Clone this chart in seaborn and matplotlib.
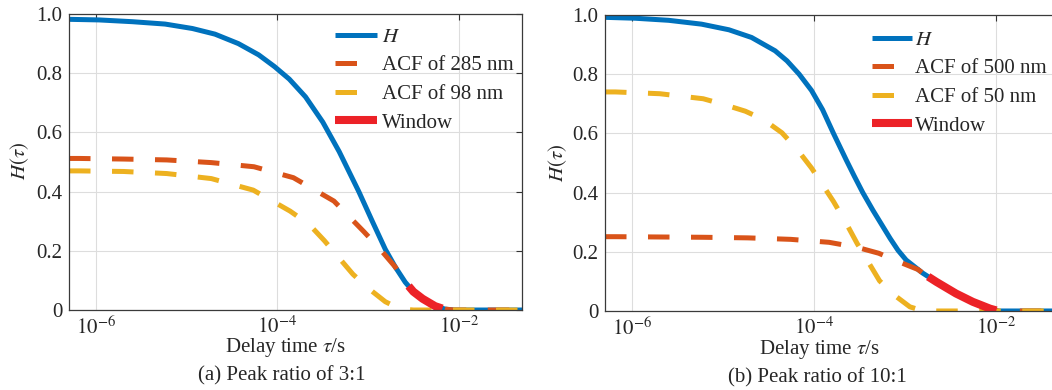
import matplotlib
matplotlib.use("Agg")
import matplotlib.pyplot as plt
import seaborn as sns

# ---------------- data ----------------
x_ticks = [1e-6, 1e-4, 1e-2]
x_ticklabels = [r"$10^{-6}$", r"$10^{-4}$", r"$10^{-2}$"]
y_ticks = [0, 0.2, 0.4, 0.6, 0.8, 1.0]
y_ticklabels = ["0", "0.2", "0.4", "0.6", "0.8", "1.0"]
x_limits = [5e-7, 5e-2]

# panel (a): peak ratio 3:1
tau_H_a = [5e-7, 1.07e-6, 2.5e-6, 5.75e-6, 1.15e-5, 2.04e-5, 3.7e-5, 6.2e-5, 9.3e-5,
           1.35e-4, 2.04e-4, 3.16e-4, 4.8e-4, 7.9e-4, 1.12e-3, 1.55e-3, 2.0e-3,
           2.57e-3, 3.16e-3, 4.0e-3, 5.5e-3, 7.1e-3, 8.9e-3, 5e-2]
H_a = [0.982, 0.980, 0.974, 0.966, 0.951, 0.932, 0.900, 0.862, 0.822,
       0.78, 0.72, 0.635, 0.535, 0.40, 0.298, 0.205, 0.145,
       0.094, 0.062, 0.038, 0.013, 0.003, 0.0, 0.0]

tau_285 = [5e-7, 6.5e-7, 2.0e-6, 6.0e-6, 1.86e-5, 5.5e-5, 1.5e-4, 4.2e-4, 8.9e-4,
           1.32e-3, 2.0e-3, 2.57e-3, 3.16e-3, 4.0e-3, 5.5e-3, 7.1e-3, 8.9e-3, 5e-2]
acf_285 = [0.512, 0.512, 0.510, 0.507, 0.498, 0.484, 0.447, 0.368, 0.266,
           0.21, 0.145, 0.094, 0.062, 0.038, 0.013, 0.003, 0.0, 0.0]

tau_98 = [5e-7, 6.5e-7, 2.0e-6, 6.0e-6, 1.86e-5, 5.4e-5, 1.38e-4, 2.24e-4, 3.3e-4,
          6.8e-4, 1.0e-3, 1.55e-3, 2.24e-3, 3.16e-3, 5e-2]
acf_98 = [0.47, 0.47, 0.468, 0.461, 0.444, 0.405, 0.334, 0.289, 0.234,
          0.121, 0.074, 0.028, 0.004, 0.0, 0.0]

win_tau_a = [2.8e-3, 3.16e-3, 4.0e-3, 5.5e-3, 6.6e-3]
win_a = [0.081, 0.062, 0.038, 0.013, 0.005]

# panel (b): peak ratio 10:1
tau_H_b = [5e-7, 1.07e-6, 2.5e-6, 5.75e-6, 1.15e-5, 2.04e-5, 3.7e-5, 5.0e-5, 6.8e-5,
           9.3e-5, 1.23e-4, 1.62e-4, 2.24e-4, 2.75e-4, 3.4e-4, 4.4e-4, 6.8e-4,
           8.3e-4, 1.02e-3, 1.55e-3, 2.2e-3, 3.6e-3, 5.5e-3, 8.5e-3, 1.05e-2, 5e-2]
H_b = [0.992, 0.989, 0.982, 0.969, 0.950, 0.924, 0.879, 0.845, 0.80,
       0.745, 0.68, 0.60, 0.51, 0.455, 0.40, 0.34, 0.245,
       0.205, 0.172, 0.128, 0.098, 0.059, 0.031, 0.008, 0.0, 0.0]

tau_500 = [5e-7, 6.5e-7, 2.0e-6, 6.0e-6, 1.86e-5, 5.5e-5, 1.45e-4, 2.95e-4, 5.1e-4,
           8.5e-4, 1.38e-3, 1.55e-3, 2.2e-3, 3.6e-3, 5.5e-3, 8.5e-3, 1.05e-2, 5e-2]
acf_500 = [0.251, 0.251, 0.250, 0.249, 0.247, 0.242, 0.232, 0.215, 0.195,
           0.166, 0.14, 0.128, 0.098, 0.059, 0.031, 0.008, 0.0, 0.0]

tau_50 = [5e-7, 6.5e-7, 2.0e-6, 6.0e-6, 1.0e-5, 1.74e-5, 2.75e-5, 4.4e-5, 6.5e-5,
          9.3e-5, 1.62e-4, 2.24e-4, 2.95e-4, 3.9e-4, 5.2e-4, 7.6e-4, 1.12e-3,
          1.58e-3, 5e-2]
acf_50 = [0.74, 0.74, 0.734, 0.717, 0.698, 0.675, 0.647, 0.602, 0.545,
          0.483, 0.37, 0.296, 0.228, 0.166, 0.102, 0.053, 0.014,
          0.0, 0.0]

win_tau_b = [1.78e-3, 2.2e-3, 3.6e-3, 5.5e-3, 8.5e-3, 1.0e-2]
win_b = [0.116, 0.098, 0.059, 0.031, 0.008, 0.002]

labels_a = [r"$H$", "ACF of 285 nm", "ACF of 98 nm", "Window"]
labels_b = [r"$H$", "ACF of 500 nm", "ACF of 50 nm", "Window"]
captions = ["(a) Peak ratio of 3:1", "(b) Peak ratio of 10:1"]

# ---------------- style ----------------
sns.set_style("white")
plt.rcParams["font.family"] = ["Liberation Serif", "DejaVu Serif"]
plt.rcParams["mathtext.fontset"] = "stix"

C_H = "#0072BD"
C_1 = "#D95319"
C_2 = "#EDB120"
C_W = "#EC2227"
LW = 3.6
DASH = (0, (4.3, 4.3))
TXT = "#262626"

fig = plt.figure(figsize=(10.52, 3.90), dpi=100)
ax1 = fig.add_axes([0.0656, 0.2051, 0.4306, 0.759])
ax2 = fig.add_axes([0.5751, 0.2026, 0.4325, 0.759])


def draw(ax, tH, H, t1, acf1, t2, acf2, wt, wv, labels):
    handles = []
    sns.lineplot(x=tH, y=H, ax=ax, color=C_H, lw=LW, label=labels[0],
                 solid_capstyle="butt", solid_joinstyle="round")
    handles.append(ax.lines[-1])
    sns.lineplot(x=t1, y=acf1, ax=ax, color=C_1, lw=LW, linestyle=DASH,
                 label=labels[1])
    handles.append(ax.lines[-1])
    sns.lineplot(x=t2, y=acf2, ax=ax, color=C_2, lw=LW, linestyle=DASH,
                 label=labels[2])
    handles.append(ax.lines[-1])
    sns.lineplot(x=wt, y=wv, ax=ax, color=C_W, lw=5.8, label=labels[3],
                 solid_capstyle="butt", solid_joinstyle="round")
    handles.append(ax.lines[-1])
    return handles


def style(ax):
    ax.set_xscale("log")
    ax.set_xlim(x_limits)
    ax.set_ylim(0, 1)
    ax.set_xticks(x_ticks, labels=x_ticklabels)
    ax.minorticks_off()
    ax.set_yticks(y_ticks, labels=y_ticklabels)
    ax.tick_params(direction="in", length=4.5, width=0.8, top=True, right=True,
                   labelsize=15, color="#333333", labelcolor=TXT, pad=4.7)
    ax.grid(True, which="major", color="#DDDDDD", lw=0.8)
    ax.set_axisbelow(True)
    for s in ax.spines.values():
        s.set_color("#3a3a3a")
        s.set_linewidth(0.9)
    ax.set_ylabel(r"$H(\tau)$", fontsize=15, color=TXT)
    ax.set_xlabel(r"Delay time $\tau$/s", fontsize=15, color=TXT)
    ax.xaxis.label.set_va("center")
    ax.yaxis.label.set_va("center")


h1 = draw(ax1, tau_H_a, H_a, tau_285, acf_285, tau_98, acf_98,
          win_tau_a, win_a, labels_a)
h2 = draw(ax2, tau_H_b, H_b, tau_500, acf_500, tau_50, acf_50,
          win_tau_b, win_b, labels_b)
style(ax1)
style(ax2)

ax1.legend(h1, labels_a, loc="upper left", bbox_to_anchor=(0.587, 0.955),
           frameon=False, fontsize=15, borderpad=0, borderaxespad=0,
           handlelength=2.0, handletextpad=0.25, labelspacing=0.43,
           labelcolor=TXT)
ax2.legend(h2, labels_b, loc="upper left", bbox_to_anchor=(0.586, 0.948),
           frameon=False, fontsize=15, borderpad=0, borderaxespad=0,
           handlelength=1.92, handletextpad=0.15, labelspacing=0.43,
           labelcolor=TXT)

ax1.xaxis.set_label_coords(0.479, -0.127)
ax2.xaxis.set_label_coords(0.4725, -0.130)
ax1.yaxis.set_label_coords(-0.108, 0.503)
ax2.yaxis.set_label_coords(-0.105, 0.50)

ax1.text(0.470, -0.222, captions[0], transform=ax1.transAxes, ha="center",
         va="center", fontsize=15, color=TXT)
ax2.text(0.467, -0.225, captions[1], transform=ax2.transAxes, ha="center",
         va="center", fontsize=15, color=TXT)

fig.savefig("out.png", dpi=100)
